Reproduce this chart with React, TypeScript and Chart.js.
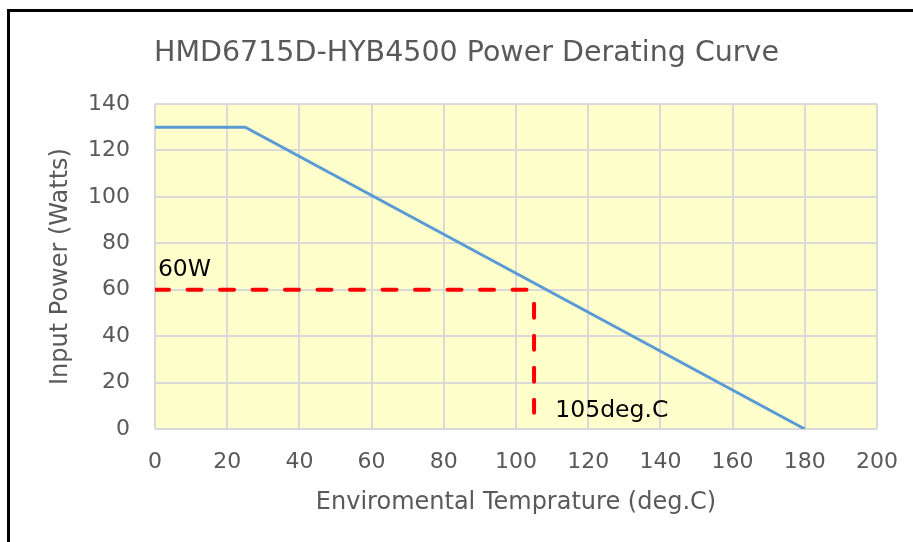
import React, { useEffect, useRef } from "react";
import { Chart, registerables } from "chart.js";

Chart.register(...registerables);

// ---- data ----
const curveX = [0, 25, 180];
const curveY = [130, 130, 0];

const limitHX = [0, 104];
const limitHY = [60, 60];

const limitVX = [105, 105];
const limitVY = [54, 7];

const noteTexts = ["60W", "105deg.C"];
const noteX = [0.8, 110.9];
const noteY = [65.7, 5.2];

const chartTitle = "HMD6715D-HYB4500 Power Derating Curve";
const xTitle = "Enviromental Temprature (deg.C)";
const yTitle = "Input Power (Watts)";

const FONT = '"DejaVu Sans", Verdana, sans-serif';
const GRAY = "#595959";

export default function App() {
  const ref = useRef<HTMLCanvasElement>(null);

  useEffect(() => {
    if (!ref.current) return;

    const bgPlugin = {
      id: "plotBg",
      beforeDraw(chart: any) {
        const { ctx, chartArea } = chart;
        ctx.save();
        ctx.fillStyle = "#FFFFCC";
        ctx.fillRect(chartArea.left, chartArea.top, chartArea.width, chartArea.height);
        ctx.restore();
      },
    };

    const notePlugin = {
      id: "notes",
      afterDatasetsDraw(chart: any) {
        const { ctx, scales } = chart;
        ctx.save();
        ctx.fillStyle = "#000000";
        ctx.font = `23.5px ${FONT}`;
        ctx.textAlign = "left";
        ctx.textBaseline = "alphabetic";
        noteTexts.forEach((t, i) => {
          ctx.fillText(t, scales.x.getPixelForValue(noteX[i]), scales.y.getPixelForValue(noteY[i]));
        });
        ctx.restore();
      },
    };

    const toPts = (xs: number[], ys: number[]) => xs.map((x, i) => ({ x, y: ys[i] }));

    const chart = new Chart(ref.current, {
      type: "line",
      data: {
        datasets: [
          {
            label: "Power",
            data: toPts(curveX, curveY),
            borderColor: "#5B9BD5",
            borderWidth: 3,
            pointRadius: 0,
            tension: 0,
          },
          {
            label: "60W",
            data: toPts(limitHX, limitHY),
            borderColor: "#FF0000",
            borderWidth: 4,
            borderDash: [14, 18.5],
            borderCapStyle: "round",
            pointRadius: 0,
          },
          {
            label: "105C",
            data: toPts(limitVX, limitVY),
            borderColor: "#FF0000",
            borderWidth: 4,
            borderDash: [14, 18],
            borderCapStyle: "round",
            pointRadius: 0,
          },
        ],
      },
      options: {
        animation: false,
        responsive: false,
        devicePixelRatio: 1,
        layout: { padding: { left: 56, right: 36, top: 0, bottom: 0 } },
        plugins: {
          legend: { display: false },
          tooltip: { enabled: false },
          title: {
            display: true,
            text: chartTitle,
            color: GRAY,
            font: { family: FONT, size: 28.5, weight: "normal" },
            padding: { top: 36.4, bottom: 33.4 },
          },
        },
        scales: {
          x: {
            type: "linear",
            min: 0,
            max: 200,
            ticks: {
              stepSize: 20,
              color: GRAY,
              font: { family: FONT, size: 22 },
              padding: 20,
              maxRotation: 0,
            },
            grid: { color: "#D9D9D9", lineWidth: 2, drawTicks: false },
            border: { display: false },
            title: {
              display: true,
              text: xTitle,
              color: GRAY,
              font: { family: FONT, size: 24 },
              padding: { top: 0, bottom: 24.6 },
            },
            afterFit(scale: any) {
              scale.height = 113;
              scale.paddingRight = 0;
              scale.paddingLeft = 0;
            },
          },
          y: {
            type: "linear",
            min: 0,
            max: 140,
            ticks: {
              stepSize: 20,
              color: GRAY,
              font: { family: FONT, size: 22 },
              padding: 25,
            },
            grid: { color: "#D9D9D9", lineWidth: 2, drawTicks: false },
            border: { display: false },
            title: {
              display: true,
              text: yTitle,
              color: GRAY,
              font: { family: FONT, size: 24 },
              padding: { top: -9.4, bottom: 0 },
            },
            afterFit(scale: any) {
              scale.width = 99;
            },
          },
        },
      },
      plugins: [bgPlugin, notePlugin],
    } as any);

    return () => chart.destroy();
  }, []);

  return (
    <div
      style={{
        position: "fixed",
        left: 0,
        top: 0,
        width: 913,
        height: 542,
        background: "#ffffff",
        overflow: "hidden",
      }}
    >
      <canvas ref={ref} width={913} height={542} style={{ position: "absolute", left: 0, top: 0 }} />
      <div
        style={{
          position: "absolute",
          left: 7,
          top: 9,
          width: 1000,
          height: 1000,
          borderLeft: "3px solid #000",
          borderTop: "3px solid #000",
          pointerEvents: "none",
        }}
      />
    </div>
  );
}
